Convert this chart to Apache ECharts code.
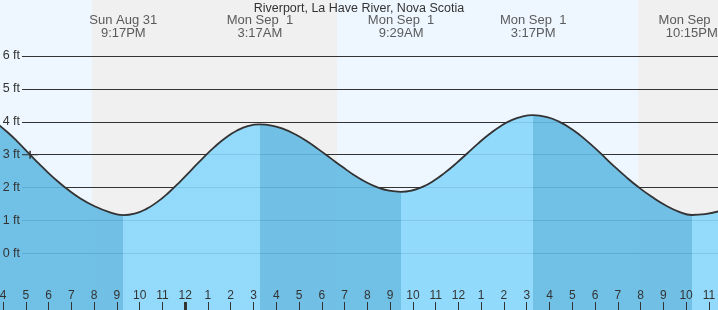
<!DOCTYPE html>
<html>
<head>
<meta charset="utf-8">
<script src="https://cdn.jsdelivr.net/npm/echarts@6/dist/echarts.min.js"></script>
<style>
  html, body { margin: 0; padding: 0; }
  #chart { width: 718px; height: 310px; }
</style>
</head>
<body>
<div id="chart"></div>
<script>
// hours counted from Aug 31 00:00
var tideTimes = [
    15.7, 16.2, 16.6, 17.19, 17.6, 18.0, 18.4, 18.77, 19.4, 20.0, 20.64, 21.28,
    21.78, 22.28, 22.78, 23.28, 23.78, 24.28, 24.78, 25.28, 25.78, 26.28, 26.78, 27.28,
    27.80, 28.31, 28.83, 29.35, 29.86, 30.38, 30.90, 31.41, 31.93, 32.45, 32.96, 33.48,
    33.96, 34.45, 34.93, 35.41, 35.90, 36.38, 36.86, 37.35, 37.83, 38.31, 38.80, 39.28,
    39.86, 40.44, 41.02, 41.60, 42.19, 42.77, 43.35, 43.93, 44.51, 45.09, 45.67, 46.25,
    46.83, 47.5
];
var tideHeights = [
    3.97, 3.68, 3.42, 3.0, 2.71, 2.44, 2.19, 1.98, 1.67, 1.44, 1.26, 1.16,
    1.207, 1.345, 1.564, 1.85, 2.183, 2.54, 2.897, 3.23, 3.516, 3.735, 3.873, 3.92,
    3.885, 3.783, 3.62, 3.408, 3.16, 2.895, 2.63, 2.383, 2.17, 2.007, 1.905, 1.87,
    1.91, 2.026, 2.211, 2.453, 2.734, 3.035, 3.337, 3.618, 3.859, 4.044, 4.16, 4.2,
    4.148, 3.997, 3.756, 3.441, 3.075, 2.69, 2.33, 2.0, 1.71, 1.46, 1.27, 1.165,
    1.19, 1.29
];

var extremeTimes  = [21.283, 27.283, 33.483, 39.283, 46.25];
var extremeLabels = ['Sun Aug 31\n9:17PM', 'Mon Sep  1\n3:17AM', 'Mon Sep  1\n9:29AM', 'Mon Sep  1\n3:17PM', 'Mon Sep  1\n10:15PM'];

var nightStart = [19.91, 43.89];
var nightEnd   = [30.67, 48];

var hourTicks = [];
for (var h = 16; h <= 47; h++) hourTicks.push(h);
var midnightTicks = [24];

var nowPoint = [17.19, 3.0];

var tMin = 15.868, tMax = 47.40;
var yMin = -1.724, yMax = 7.703;
var headerY = yMax - 27 * (yMax - yMin) / 310;   // header text centre, 27px from top

var darkWater = '#63bae3', lightWater = '#88d7fc';
var font = 'Liberation Sans, Arial, sans-serif';

var tideData = tideTimes.map(function (t, i) { return [t, tideHeights[i]]; });
var headerData = extremeTimes.map(function (t) { return [t, headerY]; });

// falling tide darker, rising tide lighter
var pieces = [];
var prev = null;
for (var i = 0; i < extremeTimes.length; i++) {
    var p = { color: i % 2 === 0 ? darkWater : lightWater };
    if (prev !== null) p.gte = prev;
    p.lt = extremeTimes[i];
    pieces.push(p);
    prev = extremeTimes[i];
}
pieces.push({ gte: prev, color: lightWater });

var nightAreas = nightStart.map(function (s, i) {
    return [{ xAxis: s }, { xAxis: nightEnd[i] }];
});

var myChart = echarts.init(document.getElementById('chart'));
option = {
    animation: false,
    backgroundColor: '#eef7ff',
    textStyle: { fontFamily: font },
    title: {
        text: 'Riverport, La Have River, Nova Scotia',
        left: 'center',
        top: 2,
        padding: 0,
        textStyle: { fontSize: 12.5, fontWeight: 'normal', color: '#333', fontFamily: font }
    },
    grid: [
        { left: 0, right: 0, top: 0, bottom: 0, outerBoundsMode: 'none', containLabel: false },
        { left: 22, right: 0, top: 56, bottom: 56.7, outerBoundsMode: 'none', containLabel: false }
    ],
    visualMap: {
        type: 'piecewise',
        show: false,
        dimension: 0,
        seriesIndex: 1,
        pieces: pieces
    },
    xAxis: [
        {
            gridIndex: 0, type: 'value', min: tMin, max: tMax, position: 'bottom', z: 10,
            axisLine: { show: false, onZero: false },
            splitLine: { show: false },
            axisTick: { inside: true, length: 8, customValues: hourTicks, lineStyle: { color: '#333', width: 1 } },
            axisLabel: {
                inside: true, margin: 8, customValues: hourTicks, color: '#333', fontSize: 12, fontFamily: font,
                formatter: function (v) { return (Math.round(v) % 12) || 12; }
            }
        },
        {
            gridIndex: 0, type: 'value', min: tMin, max: tMax, position: 'bottom', z: 10,
            axisLine: { show: false, onZero: false },
            splitLine: { show: false },
            axisTick: { inside: true, length: 8, customValues: midnightTicks, lineStyle: { color: '#333', width: 3 } },
            axisLabel: { show: false }
        },
        { gridIndex: 1, type: 'value', min: 0, max: 1, show: false, axisLine: { onZero: false } }
    ],
    yAxis: [
        { gridIndex: 0, type: 'value', min: yMin, max: yMax, show: false },
        {
            gridIndex: 1, type: 'value', min: 0, max: 6, interval: 1, z: 1, position: 'left',
            axisLine: { show: false, onZero: false }, axisTick: { show: false }, axisLabel: { show: false },
            splitLine: { show: true, lineStyle: { color: '#333', width: 1 } }
        },
        {
            gridIndex: 1, type: 'value', min: 0, max: 6, interval: 1, z: 10, position: 'left',
            axisLine: { show: false, onZero: false }, axisTick: { show: false }, splitLine: { show: false },
            axisLabel: { margin: 2, color: '#333', fontSize: 12.5, fontFamily: font, formatter: '{value} ft' }
        }
    ],
    series: [
        {
            type: 'line', xAxisIndex: 0, yAxisIndex: 0, data: [], z: 0, silent: true,
            markArea: { silent: true, z: 0, itemStyle: { color: '#f0f0f0' }, data: nightAreas }
        },
        {
            type: 'line', xAxisIndex: 0, yAxisIndex: 0, data: tideData, z: 2,
            smooth: true, symbol: 'none', silent: true,
            lineStyle: { width: 0 },
            areaStyle: { opacity: 0.9, origin: 'start' }
        },
        {
            type: 'line', xAxisIndex: 0, yAxisIndex: 0, data: tideData, z: 3,
            smooth: true, symbol: 'none', silent: true,
            lineStyle: { color: '#333', width: 1.8 },
            markPoint: {
                silent: true,
                symbol: 'path://M7.25,0h1.5v8h-1.5z M0,3.5h16v1h-16z',
                symbolSize: [16, 8],
                itemStyle: { color: '#333' },
                label: { show: false },
                data: [{ coord: nowPoint }]
            }
        },
        {
            type: 'scatter', xAxisIndex: 0, yAxisIndex: 0, data: headerData, z: 10,
            symbolSize: 0, silent: true,
            label: {
                show: true, position: 'inside', color: '#333', fontSize: 13, lineHeight: 13, fontFamily: font,
                formatter: function (p) { return extremeLabels[p.dataIndex]; }
            }
        }
    ]
};
myChart.setOption(option);
</script>
</body>
</html>
